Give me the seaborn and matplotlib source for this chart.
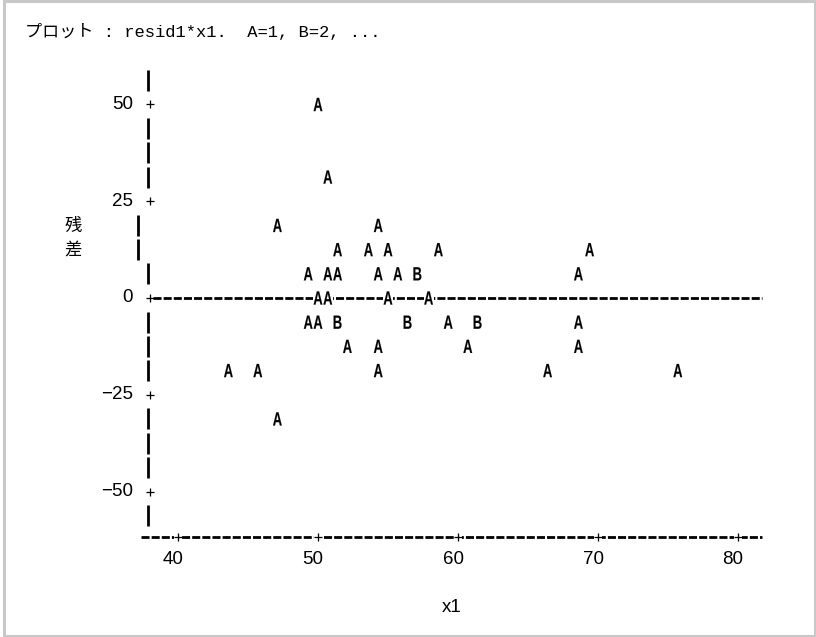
import numpy as np
import pandas as pd
import matplotlib
matplotlib.use("Agg")
import matplotlib.pyplot as plt
import seaborn as sns
from matplotlib.textpath import TextPath
from matplotlib.font_manager import FontProperties, fontManager
from matplotlib.path import Path
from matplotlib.patches import Rectangle

# ---------------- data ----------------
x1 = [50.0,
      50.7,
      47.1, 54.3,
      51.4, 53.6, 55.0, 58.6, 69.4,
      49.3, 50.7, 51.4, 54.3, 55.7, 57.1, 68.6,
      50.0, 50.7, 55.0, 57.9,
      49.3, 50.0, 51.4, 56.4, 59.3, 61.4, 68.6,
      52.1, 54.3, 60.7, 68.6,
      43.6, 45.7, 54.3, 66.4, 75.7,
      47.1]
resid = [50.0,
         31.25,
         18.75, 18.75,
         12.5, 12.5, 12.5, 12.5, 12.5,
         6.25, 6.25, 6.25, 6.25, 6.25, 6.25, 6.25,
         0.0, 0.0, 0.0, 0.0,
         -6.25, -6.25, -6.25, -6.25, -6.25, -6.25, -6.25,
         -12.5, -12.5, -12.5, -12.5,
         -18.75, -18.75, -18.75, -18.75, -18.75,
         -31.25]
count = [1,
         1,
         1, 1,
         1, 1, 1, 1, 1,
         1, 1, 1, 1, 1, 2, 1,
         1, 1, 1, 1,
         1, 1, 2, 2, 1, 2, 1,
         1, 1, 1, 1,
         1, 1, 1, 1, 1,
         1]

x_ticks = [40, 50, 60, 70, 80]
y_ticks = [50, 25, 0, -25, -50]
title = "プロット : resid1*x1.  A=1, B=2, ..."
x_label = "x1"
y_label = "残差"

# ---------------- style ----------------
sns.set_theme(style="white")
avail = {f.name for f in fontManager.ttflist}
narrow = "Liberation Sans Narrow" if "Liberation Sans Narrow" in avail else "Liberation Sans"
mono = "Liberation Mono" if "Liberation Mono" in avail else "DejaVu Sans Mono"
plt.rcParams["font.family"] = [narrow, "Noto Sans CJK JP", "DejaVu Sans"]

W, H = 816, 637
fig = plt.figure(figsize=(W / 100, H / 100), dpi=100)
fig.patch.set_facecolor("white")
ax = fig.add_axes([0, 0, 1, 1])
ax.set_axis_off()

# layout: pixel -> data mapping of the printer grid
X0PX, XPPU = 178.0, 14.0
Y0PX, YPPU = 298.0, 3.87
def dx(px):
    return x_ticks[0] + (px - X0PX) / XPPU
def dy(py):
    return (Y0PX - py) / YPPU

INK = "black"
FS = 13.5

# ---------------- vertical axis made of '|' and '+' ----------------
row_step = 6.25
rows = np.arange(-9, 10) * row_step
half = 10.5 / YPPU
for r in rows:
    if abs(r % 25) < 1e-9:
        continue
    xpx = 137.5 if r in (18.75, 12.5) else 148.0
    ax.plot([dx(xpx), dx(xpx)], [r - half, r + half], color=INK, lw=2.0,
            solid_capstyle="butt")
for t in y_ticks:
    ax.plot([dx(150)], [t], marker="+", ms=6, mew=0.9, color=INK, zorder=5)
    ax.text(dx(133), t, str(t).replace("-", "\u2212"), ha="right", va="center",
            fontsize=FS, color=INK)

# y label characters stacked on print rows
for ch, r in zip(y_label, [18.75, 12.5]):
    ax.text(dx(73), r, ch, ha="center", va="center", fontsize=12.5,
            family=["Noto Sans CJK JP"], color=INK)

# ---------------- horizontal axis ----------------
dash = (2.9, 0.75)
yax = dy(537)
ax.plot([dx(141), dx(762)], [yax, yax], color=INK, lw=2.0, dashes=dash,
        dash_capstyle="butt", zorder=1)
ax.scatter(x_ticks, [yax] * len(x_ticks), marker="s", s=40, color="white",
           linewidths=0, zorder=2)
ax.scatter(x_ticks, [yax] * len(x_ticks), marker="+", s=40, color=INK,
           linewidths=0.9, zorder=3)
for t in x_ticks:
    ax.text(t - 5 / XPPU, dy(560), str(t), ha="center", va="center",
            fontsize=FS, color=INK)
ax.text(dx(452), dy(608), x_label, ha="center", va="center", fontsize=FS, color=INK)

# zero reference line
ax.plot([dx(153), dx(762)], [0, 0], color=INK, lw=2.0, dashes=dash,
        dash_capstyle="butt", zorder=1)

# ---------------- letter markers ----------------
def letter_marker(ch, aspect):
    tp = TextPath((0, 0), ch, size=10,
                  prop=FontProperties(family=narrow, weight="bold"))
    v = tp.vertices.copy()
    codes = tp.codes
    keep = codes != Path.CLOSEPOLY
    lo = v[keep].min(axis=0)
    hi = v[keep].max(axis=0)
    c = (lo + hi) / 2
    v[~keep] = c
    v = v - c
    w, h = hi - lo
    v[:, 0] *= aspect * h / w
    return Path(v, codes)

mA = letter_marker("A", 0.66)
mB = letter_marker("B", 0.6)

df = pd.DataFrame({"x1": x1, "resid": resid,
                   "sym": ["AB"[c - 1] for c in count]})

sns.scatterplot(data=df, x="x1", y="resid", marker="s", s=55, color="white",
                linewidth=0, zorder=3, legend=False, ax=ax)
sns.scatterplot(data=df, x="x1", y="resid", style="sym",
                markers={"A": mA, "B": mB}, s=90, color=INK, edgecolor=INK,
                linewidth=0.1, zorder=4, legend=False, ax=ax)

ax.set_xlim(dx(0), dx(W))
ax.set_ylim(dy(H), dy(0))
ax.set_axis_off()

# ---------------- title and frame ----------------
fig.text(25 / W, 1 - 32 / H, title, ha="left", va="center", fontsize=12.3,
         family=[mono, "Noto Sans CJK JP"], color=INK)
fig.patches.append(Rectangle((3.5 / W, (H - 635.5) / H), (815 - 3.5) / W,
                             (635.5 - 1) / H, transform=fig.transFigure,
                             fill=False, edgecolor="#c8c8c8", lw=2.2))

fig.savefig("out.png", dpi=100)
